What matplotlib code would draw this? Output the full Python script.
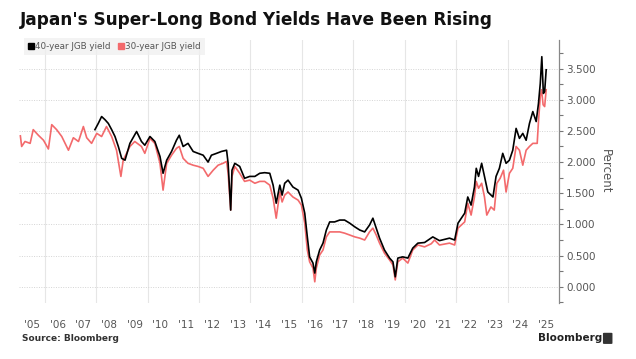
import matplotlib
matplotlib.use("Agg")
import matplotlib.pyplot as plt
from matplotlib.lines import Line2D
from matplotlib.patches import FancyBboxPatch
import numpy as np

# 30-year JGB yield (decimal year, percent)
dates_30 = [2005.05, 2005.1, 2005.23, 2005.43, 2005.55, 2005.75, 2005.95, 2006.14, 2006.27, 2006.46,
            2006.66, 2006.92, 2007.11, 2007.31, 2007.5, 2007.63, 2007.82, 2008.02, 2008.21, 2008.4,
            2008.6, 2008.79, 2008.96, 2009.05, 2009.31, 2009.5, 2009.76, 2009.89, 2010.09, 2010.28,
            2010.48, 2010.6, 2010.74, 2010.93, 2011.12, 2011.23, 2011.38, 2011.57, 2011.77, 2011.96,
            2012.16, 2012.35, 2012.55, 2012.74, 2012.93, 2013.07, 2013.13, 2013.23, 2013.28, 2013.39,
            2013.58, 2013.77, 2013.97, 2014.17, 2014.36, 2014.55, 2014.75, 2014.88, 2015.0, 2015.14,
            2015.23, 2015.33, 2015.46, 2015.65, 2015.85, 2015.98, 2016.11, 2016.21, 2016.3, 2016.43,
            2016.5, 2016.56, 2016.69, 2016.82, 2016.95, 2017.08, 2017.27, 2017.47, 2017.66, 2017.86,
            2018.06, 2018.25, 2018.44, 2018.63, 2018.76, 2018.89, 2019.02, 2019.21, 2019.41, 2019.54,
            2019.63, 2019.73, 2019.92, 2020.12, 2020.31, 2020.51, 2020.77, 2021.03, 2021.16, 2021.35,
            2021.74, 2021.94, 2022.07, 2022.2, 2022.33, 2022.45, 2022.58, 2022.71, 2022.78, 2022.87,
            2022.99, 2023.1, 2023.19, 2023.35, 2023.48, 2023.58, 2023.71, 2023.84, 2023.94, 2024.07,
            2024.2, 2024.33, 2024.46, 2024.59, 2024.72, 2024.85, 2024.98, 2025.15, 2025.2, 2025.27,
            2025.32, 2025.38, 2025.44, 2025.5]
yield_30 = [2.42, 2.25, 2.33, 2.30, 2.52, 2.43, 2.35, 2.21, 2.60, 2.52,
            2.41, 2.19, 2.39, 2.33, 2.57, 2.39, 2.30, 2.46, 2.41, 2.57,
            2.41, 2.19, 1.77, 2.03, 2.25, 2.33, 2.25, 2.14, 2.38, 2.30,
            1.98, 1.55, 1.98, 2.11, 2.22, 2.25, 2.06, 1.98, 1.95, 1.93,
            1.90, 1.77, 1.87, 1.95, 1.98, 2.01, 1.82, 1.23, 1.77, 1.93,
            1.82, 1.69, 1.71, 1.66, 1.69, 1.69, 1.63, 1.42, 1.10, 1.52,
            1.36, 1.47, 1.52, 1.44, 1.39, 1.31, 1.02, 0.59, 0.40, 0.30,
            0.08, 0.30, 0.51, 0.59, 0.80, 0.88, 0.88, 0.88, 0.86, 0.83,
            0.80, 0.78, 0.75, 0.88, 0.94, 0.83, 0.70, 0.54, 0.43, 0.35,
            0.11, 0.40, 0.46, 0.38, 0.59, 0.67, 0.64, 0.69, 0.75, 0.67,
            0.70, 0.67, 0.94, 0.99, 1.04, 1.34, 1.15, 1.44, 1.69, 1.58,
            1.66, 1.44, 1.15, 1.28, 1.23, 1.66, 1.74, 1.87, 1.52, 1.82,
            1.90, 2.25, 2.19, 1.95, 2.19, 2.25, 2.30, 2.30, 2.65, 3.05,
            3.16, 2.92, 2.89, 3.16]

# 40-year JGB yield
dates_40 = [2007.95, 2008.08, 2008.21, 2008.34, 2008.47, 2008.6, 2008.73, 2008.86, 2008.99, 2009.12,
            2009.31, 2009.57, 2009.76, 2009.89, 2010.09, 2010.28, 2010.48, 2010.6, 2010.74, 2010.93,
            2011.12, 2011.23, 2011.38, 2011.57, 2011.77, 2011.96, 2012.16, 2012.35, 2012.48, 2012.68,
            2012.87, 2013.07, 2013.13, 2013.23, 2013.28, 2013.39, 2013.58, 2013.77, 2013.97, 2014.17,
            2014.36, 2014.55, 2014.75, 2014.88, 2015.0, 2015.14, 2015.23, 2015.33, 2015.46, 2015.65,
            2015.85, 2015.98, 2016.11, 2016.21, 2016.3, 2016.43, 2016.5, 2016.56, 2016.69, 2016.82,
            2016.95, 2017.08, 2017.27, 2017.47, 2017.66, 2017.86, 2018.06, 2018.25, 2018.44, 2018.63,
            2018.76, 2018.89, 2019.02, 2019.21, 2019.41, 2019.54, 2019.63, 2019.73, 2019.92, 2020.12,
            2020.31, 2020.51, 2020.77, 2021.09, 2021.35, 2021.74, 2021.94, 2022.07, 2022.2, 2022.33,
            2022.45, 2022.58, 2022.71, 2022.78, 2022.87, 2022.99, 2023.1, 2023.23, 2023.43, 2023.55,
            2023.68, 2023.81, 2023.94, 2024.07, 2024.2, 2024.33, 2024.46, 2024.59, 2024.72, 2024.85,
            2024.98, 2025.11, 2025.2, 2025.27, 2025.33, 2025.39, 2025.44, 2025.5]
yield_40 = [2.52, 2.62, 2.73, 2.68, 2.62, 2.52, 2.41, 2.25, 2.06, 2.03,
            2.30, 2.49, 2.33, 2.27, 2.41, 2.33, 2.09, 1.82, 2.03, 2.17,
            2.35, 2.43, 2.25, 2.30, 2.17, 2.14, 2.11, 2.00, 2.11, 2.14,
            2.17, 2.19, 1.98, 1.23, 1.87, 1.98, 1.93, 1.74, 1.77, 1.77,
            1.82, 1.83, 1.82, 1.63, 1.34, 1.63, 1.47, 1.66, 1.71, 1.60,
            1.55, 1.42, 1.18, 0.80, 0.48, 0.38, 0.22, 0.40, 0.59, 0.70,
            0.91, 1.04, 1.04, 1.07, 1.07, 1.02, 0.96, 0.91, 0.88, 0.99,
            1.10, 0.94, 0.78, 0.59, 0.46, 0.40, 0.16, 0.46, 0.48, 0.46,
            0.62, 0.70, 0.71, 0.80, 0.74, 0.78, 0.75, 1.02, 1.10, 1.18,
            1.44, 1.31, 1.60, 1.90, 1.77, 1.98, 1.77, 1.52, 1.44, 1.77,
            1.90, 2.14, 1.98, 2.03, 2.19, 2.54, 2.38, 2.46, 2.35, 2.62,
            2.81, 2.65, 2.94, 3.26, 3.69, 3.10, 3.13, 3.48]

years = list(range(2005, 2026))
year_labels = ["'%02d" % (y % 100) for y in years]

RED = '#f36a6c'
GREY = '#555555'

fig = plt.figure(figsize=(6.36, 3.59), dpi=100)
ax = fig.add_axes([0.030, 0.156, 0.849, 0.733])

ax.plot(dates_30, yield_30, color=RED, lw=1.2, zorder=3)
ax.plot(dates_40, yield_40, color='black', lw=1.2, zorder=4)

ax.set_xlim(2005.0, 2026.0)
ax.set_ylim(-0.26, 3.96)

# right-hand axis
ax.yaxis.tick_right()
ax.yaxis.set_label_position('right')
ax.set_yticks(np.arange(0, 3.51, 0.5))
ax.set_yticks(np.arange(-0.25, 3.96, 0.25), minor=True)
ax.set_yticklabels(['%.3f' % v for v in np.arange(0, 3.51, 0.5)])
ax.tick_params(axis='y', which='both', direction='out', length=3, width=0.8,
               colors='#777777', labelcolor=GREY, labelsize=7.5, pad=2)
ax.set_ylabel('Percent', rotation=270, color=GREY, fontsize=8.5, labelpad=12)

# year labels centred in each year, gridlines every other year
ax.set_xticks([y + 0.5 for y in years])
ax.set_xticklabels(year_labels)
ax.tick_params(axis='x', length=0, labelsize=7.5, labelcolor=GREY, pad=12)
for y in range(2006, 2025, 2):
    ax.axvline(y, color='#e6e6e6', lw=0.8, zorder=1)
for v in np.arange(0, 3.51, 0.5):
    ax.axhline(v, color='#d4d4d4', lw=0.7, ls=(0, (1, 1.5)), zorder=1)

for s in ['top', 'left', 'bottom']:
    ax.spines[s].set_visible(False)
ax.spines['right'].set_color('#888888')
ax.spines['right'].set_linewidth(0.9)

fig.text(0.032, 0.945, "Japan's Super-Long Bond Yields Have Been Rising",
         fontsize=12.2, fontweight='bold', va='center', ha='left', color='#111111')

handles = [Line2D([], [], marker='s', ls='', color='black', markersize=4.5),
           Line2D([], [], marker='s', ls='', color=RED, markersize=4.5)]
leg = ax.legend(handles, ['40-year JGB yield', '30-year JGB yield'], loc='upper left',
                bbox_to_anchor=(0.031, 0.905), bbox_transform=fig.transFigure,
                ncol=2, frameon=True, fontsize=6.3, handlelength=0.6, handletextpad=0.25,
                columnspacing=0.8, borderpad=0.45, fancybox=False)
leg.get_frame().set_facecolor('#f0f0f0')
leg.get_frame().set_edgecolor('none')
for t in leg.get_texts():
    t.set_color(GREY)

fig.text(0.035, 0.058, 'Source: Bloomberg', fontsize=6.5, fontweight='bold',
         color='#333333', va='center')
fig.text(0.846, 0.058, 'Bloomberg', fontsize=7.5, fontweight='bold',
         color='#222222', va='center')
fig.patches.append(FancyBboxPatch((0.950, 0.044), 0.011, 0.027, boxstyle='round,pad=0.002',
                                  transform=fig.transFigure, facecolor='#333333',
                                  edgecolor='none', figure=fig))

fig.savefig('out.png', dpi=100, facecolor='white')
